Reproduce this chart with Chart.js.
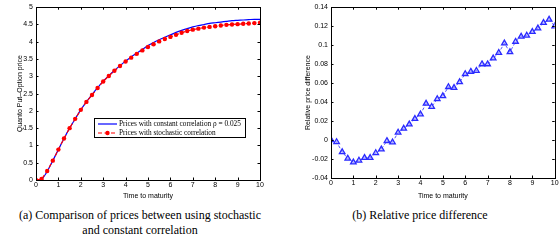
<!DOCTYPE html>
<html><head><meta charset="utf-8">
<script src="https://cdn.jsdelivr.net/npm/chart.js@4/dist/chart.umd.min.js"></script>
<style>
html,body{margin:0;padding:0;background:#fff;width:560px;height:241px;overflow:hidden;}
#a{position:absolute;left:0;top:0;width:280px;height:200px;}
#b{position:absolute;left:280px;top:0;width:280px;height:200px;}
.cap{position:absolute;font-family:"Liberation Serif","Times New Roman",serif;font-size:12px;color:#000;text-align:center;line-height:15px;white-space:nowrap;}
</style></head>
<body>
<canvas id="a" width="280" height="200"></canvas>
<canvas id="b" width="280" height="200"></canvas>
<div class="cap" style="left:0;width:280px;top:208px;">(a) Comparison of prices between using stochastic<br>and constant correlation</div>
<div class="cap" style="left:280px;width:280px;top:208px;">(b) Relative price difference</div>
<script>
const times = [0,0.25,0.5,0.75,1,1.25,1.5,1.75,2,2.25,2.5,2.75,3,3.25,3.5,3.75,4,4.25,4.5,4.75,5,5.25,5.5,5.75,6,6.25,6.5,6.75,7,7.25,7.5,7.75,8,8.25,8.5,8.75,9,9.25,9.5,9.75,10];
const constPrices = [0,0.02,0.25,0.56,0.88,1.2,1.5,1.77,2.03,2.26,2.47,2.67,2.86,3.02,3.17,3.31,3.44,3.56,3.67,3.78,3.89,3.98,4.06,4.13,4.2,4.27,4.33,4.38,4.43,4.47,4.5,4.53,4.55,4.57,4.59,4.61,4.62,4.63,4.64,4.65,4.65];
const stochPrices = [0,0.03,0.26,0.56,0.88,1.2,1.5,1.77,2.03,2.26,2.46,2.66,2.85,3.01,3.16,3.3,3.43,3.54,3.65,3.75,3.85,3.93,4.01,4.08,4.14,4.2,4.26,4.31,4.35,4.38,4.41,4.43,4.45,4.47,4.49,4.5,4.51,4.52,4.53,4.54,4.55];
const relDiff = [0,-0.002,-0.0126,-0.0194,-0.0235,-0.0215,-0.0187,-0.0187,-0.0136,-0.0098,-0.0009,-0.0023,0.008,0.0121,0.0166,0.0224,0.0272,0.0385,0.0351,0.0433,0.0464,0.056,0.055,0.0611,0.0697,0.0721,0.0731,0.08,0.08,0.0862,0.092,0.1019,0.0927,0.1037,0.1091,0.1102,0.114,0.1177,0.1235,0.127,0.12];
const legendLabels = ["Prices with constant correlation \u03C1 = 0.025","Prices with stochastic correlation"];
const xTitle = "Time to maturity";
const yTitleA = "Quanto Put\u2013Option price";
const yTitleB = "Relative price difference";

const pts = (ys)=>ys.map((y,i)=>({x:times[i],y:y}));
const tickFont = {family:"'Liberation Sans', Arial, sans-serif", size:7};

const boxTicks = {
  id:'boxTicks',
  afterDatasetsDraw(chart){
    const ctx=chart.ctx, a=chart.chartArea;
    ctx.save();
    ctx.strokeStyle='#000'; ctx.lineWidth=1;
    ctx.strokeRect(Math.round(a.left)+0.5,Math.round(a.top)+0.5,Math.round(a.right-a.left),Math.round(a.bottom-a.top));
    const L=2.5;
    ctx.beginPath();
    const xs=chart.scales.x, ys=chart.scales.y;
    xs.ticks.forEach(t=>{const p=Math.round(xs.getPixelForValue(t.value))+0.5;
      ctx.moveTo(p,a.bottom);ctx.lineTo(p,a.bottom-L);ctx.moveTo(p,a.top);ctx.lineTo(p,a.top+L);});
    ys.ticks.forEach(t=>{const p=Math.round(ys.getPixelForValue(t.value))+0.5;
      ctx.moveTo(a.left,p);ctx.lineTo(a.left+L,p);ctx.moveTo(a.right,p);ctx.lineTo(a.right-L,p);});
    ctx.stroke();
    ctx.restore();
  }
};

const legendBox = {
  id:'legendBox',
  afterDraw(chart){
    const ctx=chart.ctx;
    ctx.save();
    const x0=94.5,y0=118.5,w=151,h=19;
    ctx.fillStyle='#fff';ctx.fillRect(x0,y0,w,h);
    ctx.strokeStyle='#000';ctx.lineWidth=1;ctx.strokeRect(x0,y0,w,h);
    ctx.strokeStyle='#0000ff';ctx.lineWidth=1.2;
    ctx.beginPath();ctx.moveTo(98,124);ctx.lineTo(117,124);ctx.stroke();
    ctx.strokeStyle='#ff0000';ctx.setLineDash([4,2.5]);
    ctx.beginPath();ctx.moveTo(98,133);ctx.lineTo(117,133);ctx.stroke();
    ctx.setLineDash([]);
    ctx.fillStyle='#ff0000';ctx.beginPath();ctx.arc(107.5,133,2.2,0,Math.PI*2);ctx.fill();
    ctx.fillStyle='#000';ctx.font="7.3px 'Liberation Serif', serif";ctx.textBaseline='middle';
    ctx.fillText(legendLabels[0],119,124);
    ctx.fillText(legendLabels[1],119,133);
    ctx.restore();
  }
};

function scalesFor(ymin,ymax,ystep,yTitle,yWidth,xHeight,fmt){
  return {
    x:{type:'linear',min:0,max:10,
      ticks:{stepSize:1,font:tickFont,color:'#000',padding:1,maxRotation:0},
      grid:{display:false,drawTicks:false,tickLength:0},border:{display:false},
      title:{display:true,text:xTitle,font:tickFont,color:'#000',padding:{top:0,bottom:0}},
      afterFit(s){s.height=xHeight;}},
    y:{type:'linear',min:ymin,max:ymax,
      ticks:{stepSize:ystep,font:tickFont,color:'#000',padding:3,callback:fmt},
      grid:{display:false,drawTicks:false,tickLength:0},border:{display:false},
      title:{display:true,text:yTitle,font:tickFont,color:'#000',padding:{top:0,bottom:0}},
      afterFit(s){s.width=yWidth;}}
  };
}

Chart.defaults.animation=false;
Chart.defaults.responsive=false;

new Chart(document.getElementById('a'),{
  type:'line',
  data:{datasets:[
    {data:pts(constPrices),borderColor:'#0000ff',borderWidth:1.2,pointRadius:0,tension:0.3,order:2},
    {data:pts(stochPrices),borderColor:'#ff0000',backgroundColor:'#ff0000',borderWidth:1.2,borderDash:[4,2.5],pointRadius:2.2,pointBorderWidth:0,pointBackgroundColor:'#ff0000',order:1}
  ]},
  options:{
    layout:{padding:{left:16,right:20,top:4,bottom:0}},
    plugins:{legend:{display:false},tooltip:{enabled:false}},
    scales:scalesFor(0,5,0.5,yTitleA,20,20,v=>String(Number(v.toFixed(2))))
  },
  plugins:[boxTicks,legendBox]
});

new Chart(document.getElementById('b'),{
  type:'line',
  data:{datasets:[
    {data:pts(relDiff),borderColor:'#2a2aff',borderWidth:0.8,borderDash:[3,2],pointStyle:'triangle',pointRadius:3.2,pointBorderWidth:1.3,pointBorderColor:'#2a2aff',pointBackgroundColor:'rgba(170,170,255,0.6)'}
  ]},
  options:{
    layout:{padding:{left:24,right:4,top:3,bottom:0}},
    plugins:{legend:{display:false},tooltip:{enabled:false}},
    scales:scalesFor(-0.04,0.14,0.02,yTitleB,27,22,v=>String(Number(v.toFixed(2))))
  },
  plugins:[boxTicks]
});
</script>
</body></html>
